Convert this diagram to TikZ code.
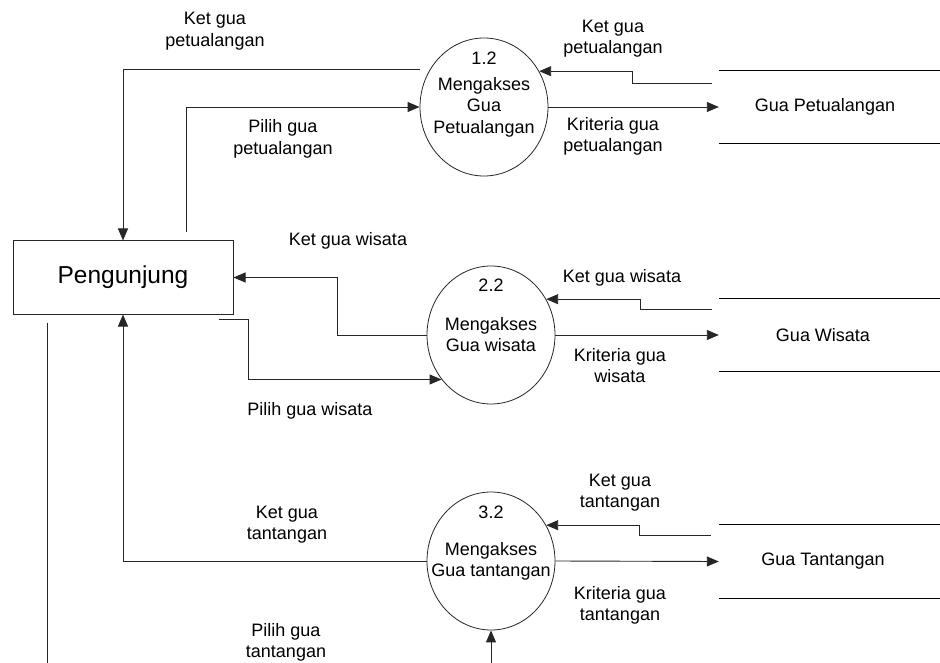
\documentclass[tikz,border=0pt]{standalone}
\usepackage{fontspec}
\setmainfont{Liberation Sans}
\usetikzlibrary{arrows.meta,shapes.geometric}
\begin{document}
\begin{tikzpicture}[x=1pt,y=-1pt,
  flow/.style={draw=black!85, line width=0.9pt, -{Triangle[length=12pt,width=10pt]}},
  plain/.style={draw=black!85, line width=0.9pt},
  proc/.style={ellipse, draw=black!85, line width=0.8pt, minimum width=128pt, minimum height=138pt, inner sep=0pt},
  entity/.style={rectangle, draw=black!85, line width=1pt, minimum width=220pt, minimum height=73pt, inner sep=0pt, font=\fontsize{24.5}{28}\selectfont},
  storebox/.style={rectangle, minimum width=226pt, minimum height=73pt, inner sep=0pt},
  storeline/.style={draw=black, line width=1.3pt},
  lbl/.style={font=\fontsize{18}{21.5}\selectfont, align=center, inner sep=0pt},
]
\useasboundingbox (0,0) rectangle (940,663);
\clip (0,0) rectangle (940,663);

% external entity
\node[entity] (P) at (123,277.5) {Pengunjung};

% processes
\node[proc] (c1) at (484,107) {};
\node[lbl] (n1) at (484,58) {1.2};
\node[lbl] (t1) at (484,107) {Mengakses\\Gua\\Petualangan};

\node[proc] (c2) at (491,335) {};
\node[lbl] (n2) at (491,285) {2.2};
\node[lbl] (t2) at (491,334.5) {Mengakses\\Gua wisata};

\node[proc] (c3) at (491,561) {};
\node[lbl] (n3) at (491,512) {3.2};
\node[lbl] (t3) at (491,561.5) {Mengakses\\Gua tantangan};

% data stores
\node[storebox] (s1) at (832,107) {};
\node[lbl] (d1) at (825,107) {Gua Petualangan};
\draw[storeline] (s1.north west) -- (s1.north east);
\draw[storeline] (s1.south west) -- (s1.south east);

\node[storebox] (s2) at (832,335) {};
\node[lbl] (d2) at (823,335) {Gua Wisata};
\draw[storeline] (s2.north west) -- (s2.north east);
\draw[storeline] (s2.south west) -- (s2.south east);

\node[storebox] (s3) at (832,561.5) {};
\node[lbl] (d3) at (823,561) {Gua Tantangan};
\draw[storeline] (s3.north west) -- (s3.north east);
\draw[storeline] (s3.south west) -- (s3.south east);

% flows around process 1.2
\draw[flow] (c1.west |- 0,69) -| (P.north);
\draw[flow] ([xshift=63pt,yshift=8pt]P.north) |- (c1.west);
\draw[flow] ([xshift=-7pt,yshift=24pt]s1.west) -- ++(-79,0) |- (c1.33);
\draw[flow] (c1.east) -- (s1.west);

\node[lbl] (l1) at (215,31) {Ket gua\\petualangan};
\node[lbl] (l2) at (283,139) {Pilih gua\\petualangan};
\node[lbl] (l3) at (613,38.5) {Ket gua\\petualangan};
\node[lbl] (l4) at (613,136.5) {Kriteria gua\\petualangan};

% flows around process 2.2
\draw[flow] (c2.west) -- ++(-89,0) |- (P.east);
\draw[flow] ([xshift=-15pt,yshift=-5pt]P.south east) -- ++(30,0) |- (c2.222);
\draw[flow] ([xshift=-7pt,yshift=26pt]s2.west) -- ++(-71,0) |- (c2.33);
\draw[flow] (c2.east) -- (s2.west);

\node[lbl] (l5) at (348,241) {Ket gua wisata};
\node[lbl] (l6) at (310,411) {Pilih gua wisata};
\node[lbl] (l7) at (622,278) {Ket gua wisata};
\node[lbl] (l8) at (620,365.5) {Kriteria gua\\wisata};

% flows around process 3.2
\draw[flow] (c3.west) -| (P.south);
\draw[flow] ([xshift=-76pt,yshift=-8pt]P.south) -- (47,690) -| (c3.south);
\draw[flow] ([xshift=-8pt,yshift=26.5pt]s3.west) -- ++(-71,0) |- (c3.33);
\draw[flow] (c3.east) -- (s3.west);

\node[lbl] (l9) at (287,524.5) {Ket gua\\tantangan};
\node[lbl] (l10) at (286,642.5) {Pilih gua\\tantangan};
\node[lbl] (l11) at (620,492.5) {Ket gua\\tantangan};
\node[lbl] (l12) at (620,605.5) {Kriteria gua\\tantangan};
\end{tikzpicture}
\end{document}
